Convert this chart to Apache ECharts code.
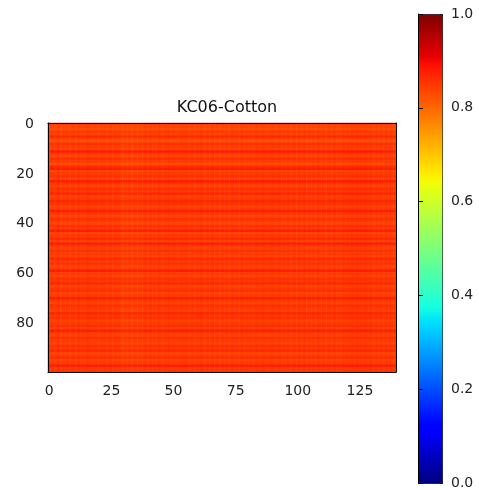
<!DOCTYPE html>
<html>
<head>
<meta charset="utf-8">
<script src="https://cdn.jsdelivr.net/npm/echarts@6/dist/echarts.min.js"></script>
<style>
  html, body { margin: 0; padding: 0; background: #fff; }
  #main { width: 479px; height: 490px; }
</style>
</head>
<body>
<div id="main"></div>
<script>
var title = 'KC06-Cotton';
var xTickLabels = ['0', '25', '50', '75', '100', '125'];
var yTickLabels = ['0', '20', '40', '60', '80'];
var cbarTicks = [0, 0.2, 0.4, 0.6, 0.8, 1.0];

var rowLevels = [
  0.85, 0.84, 0.83, 0.85, 0.84, 0.87, 0.84, 0.83, 0.86, 0.85,
  0.84, 0.88, 0.85, 0.84, 0.86, 0.85, 0.83, 0.86, 0.88, 0.84,
  0.85, 0.86, 0.84, 0.88, 0.85, 0.84, 0.86, 0.85, 0.87, 0.84,
  0.85, 0.87, 0.86, 0.84, 0.85, 0.88, 0.85, 0.84, 0.86, 0.85,
  0.84, 0.86, 0.85, 0.88, 0.84, 0.85, 0.87, 0.84, 0.88, 0.85,
  0.84, 0.86, 0.85, 0.84, 0.87, 0.85, 0.86, 0.84, 0.85, 0.88,
  0.85, 0.84, 0.86, 0.85, 0.87, 0.84, 0.85, 0.86, 0.84, 0.85,
  0.88, 0.85, 0.84, 0.86, 0.85, 0.84, 0.87, 0.85, 0.86, 0.84,
  0.85, 0.86, 0.84, 0.88, 0.85, 0.84, 0.86, 0.85, 0.84, 0.86,
  0.85, 0.87, 0.84, 0.85, 0.86, 0.84, 0.85, 0.88, 0.85, 0.86
];

var colShifts = [
  0.000, 0.004, -0.003, 0.002, 0.005, -0.002, 0.000, 0.003, -0.004, 0.001,
  0.002, -0.003, 0.004, 0.000, -0.002, 0.003, 0.005, -0.001, 0.000, 0.002,
  -0.004, 0.001, 0.003, -0.002, 0.000, 0.004, -0.003, 0.002, 0.001, -0.004,
  -0.006, -0.005, -0.003, -0.006, -0.004, -0.002, -0.005, -0.003, 0.000, 0.002,
  -0.002, 0.003, 0.001, -0.003, 0.004, 0.000, -0.002, 0.002, 0.005, -0.001,
  0.003, 0.000, -0.004, 0.002, 0.001, 0.004, -0.002, 0.000, 0.003, -0.003,
  0.002, 0.005, 0.001, -0.002, 0.003, 0.000, 0.004, -0.001, 0.002, -0.003,
  0.001, 0.003, -0.002, 0.000, 0.004, 0.002, -0.003, 0.001, 0.003, -0.001,
  0.000, 0.002, -0.004, 0.003, 0.001, -0.002, 0.004, 0.000, -0.003, 0.002,
  0.003, -0.001, 0.001, 0.004, -0.002, 0.000, 0.003, -0.004, 0.002, 0.001,
  -0.002, 0.003, 0.000, 0.004, -0.003, 0.001, 0.002, -0.002, 0.005, 0.000,
  0.003, -0.003, 0.001, 0.002, -0.001, 0.004, 0.000, -0.002, 0.003, 0.001,
  0.004, 0.002, 0.005, 0.003, 0.006, 0.004, 0.002, 0.005, 0.003, 0.004,
  0.001, -0.002, 0.003, 0.000, 0.002, -0.003, 0.004, 0.001, -0.001, 0.002
];

// matplotlib jet colormap
function jet(t) {
  function seg(pts) {
    for (var i = 1; i < pts.length; i++) {
      if (t <= pts[i][0]) {
        var a = pts[i - 1], b = pts[i];
        return a[1] + (b[1] - a[1]) * (t - a[0]) / (b[0] - a[0]);
      }
    }
    return pts[pts.length - 1][1];
  }
  var r = seg([[0, 0], [0.35, 0], [0.66, 1], [0.89, 1], [1, 0.5]]);
  var g = seg([[0, 0], [0.125, 0], [0.375, 1], [0.64, 1], [0.91, 0], [1, 0]]);
  var b = seg([[0, 0.5], [0.11, 1], [0.34, 1], [0.65, 0], [1, 0]]);
  return 'rgb(' + Math.round(r * 255) + ',' + Math.round(g * 255) + ',' + Math.round(b * 255) + ')';
}
var jetColors = [];
for (var k = 0; k <= 200; k++) jetColors.push(jet(k / 200));

var xCats = colShifts.map(function (v, i) { return String(i); });
var yCats = rowLevels.map(function (v, i) { return String(i); });
var cells = [];
rowLevels.forEach(function (rv, r) {
  colShifts.forEach(function (cv, c) {
    cells.push([c, r, +(rv + cv).toFixed(3)]);
  });
});

var font = 'DejaVu Sans';
var tickShow = function (step) {
  return function (i) { return i % step === 0; };
};

var chart = echarts.init(document.getElementById('main'));
var option = {
  backgroundColor: '#fff',
  animation: false,
  textStyle: { fontFamily: font },
  title: {
    text: title,
    left: 222, top: 95, textAlign: 'center',
    textStyle: { fontFamily: font, fontSize: 16, fontWeight: 'normal', color: '#111' }
  },
  grid: [
    { left: 48, top: 123, width: 348, height: 249 },
    { left: 418, top: 14, width: 24, height: 469 }
  ],
  xAxis: [
    {
      gridIndex: 0, type: 'category', data: xCats, z: 10,
      axisLine: { lineStyle: { color: '#000', width: 1 } },
      axisTick: { alignWithLabel: true, interval: tickShow(25), length: 5, lineStyle: { color: '#000' } },
      axisLabel: { interval: tickShow(25), margin: 12, fontSize: 14, color: '#222', fontFamily: font },
      splitLine: { show: false }
    },
    {
      gridIndex: 0, type: 'category', data: xCats, position: 'top', z: 10,
      axisLine: { lineStyle: { color: '#000', width: 1 } },
      axisTick: { show: false }, axisLabel: { show: false }
    },
    { gridIndex: 1, type: 'value', show: false, min: 0, max: 1 }
  ],
  yAxis: [
    {
      gridIndex: 0, type: 'category', data: yCats, inverse: true, z: 10,
      axisLine: { lineStyle: { color: '#000', width: 1 } },
      axisTick: { alignWithLabel: true, interval: tickShow(20), length: 5, lineStyle: { color: '#000' } },
      axisLabel: { interval: tickShow(20), margin: 14, fontSize: 14, color: '#222', fontFamily: font },
      splitLine: { show: false }
    },
    {
      gridIndex: 0, type: 'category', data: yCats, inverse: true, position: 'right', z: 10,
      axisLine: { lineStyle: { color: '#000', width: 1 } },
      axisTick: { show: false }, axisLabel: { show: false }
    },
    {
      gridIndex: 1, type: 'value', min: 0, max: 1, interval: 0.2, position: 'right', z: 10,
      axisLine: { show: true, lineStyle: { color: '#000', width: 1 } },
      axisTick: { show: true, length: 5, lineStyle: { color: '#000' } },
      axisLabel: { margin: 9, fontSize: 14, color: '#222', fontFamily: font,
        formatter: function (v) { return v.toFixed(1); } },
      splitLine: { show: false }
    }
  ],
  visualMap: {
    type: 'continuous',
    min: 0, max: 1,
    seriesIndex: 0,
    calculable: false,
    hoverLink: false,
    left: 418, top: 14,
    itemWidth: 24, itemHeight: 469,
    padding: 0,
    text: null,
    showLabel: false,
    borderColor: '#000', borderWidth: 1,
    inRange: { color: jetColors }
  },
  series: [{
    type: 'heatmap',
    xAxisIndex: 0, yAxisIndex: 0,
    data: cells,
    progressive: 0,
    emphasis: { disabled: true }
  }]
};
chart.setOption(option);
</script>
</body>
</html>
